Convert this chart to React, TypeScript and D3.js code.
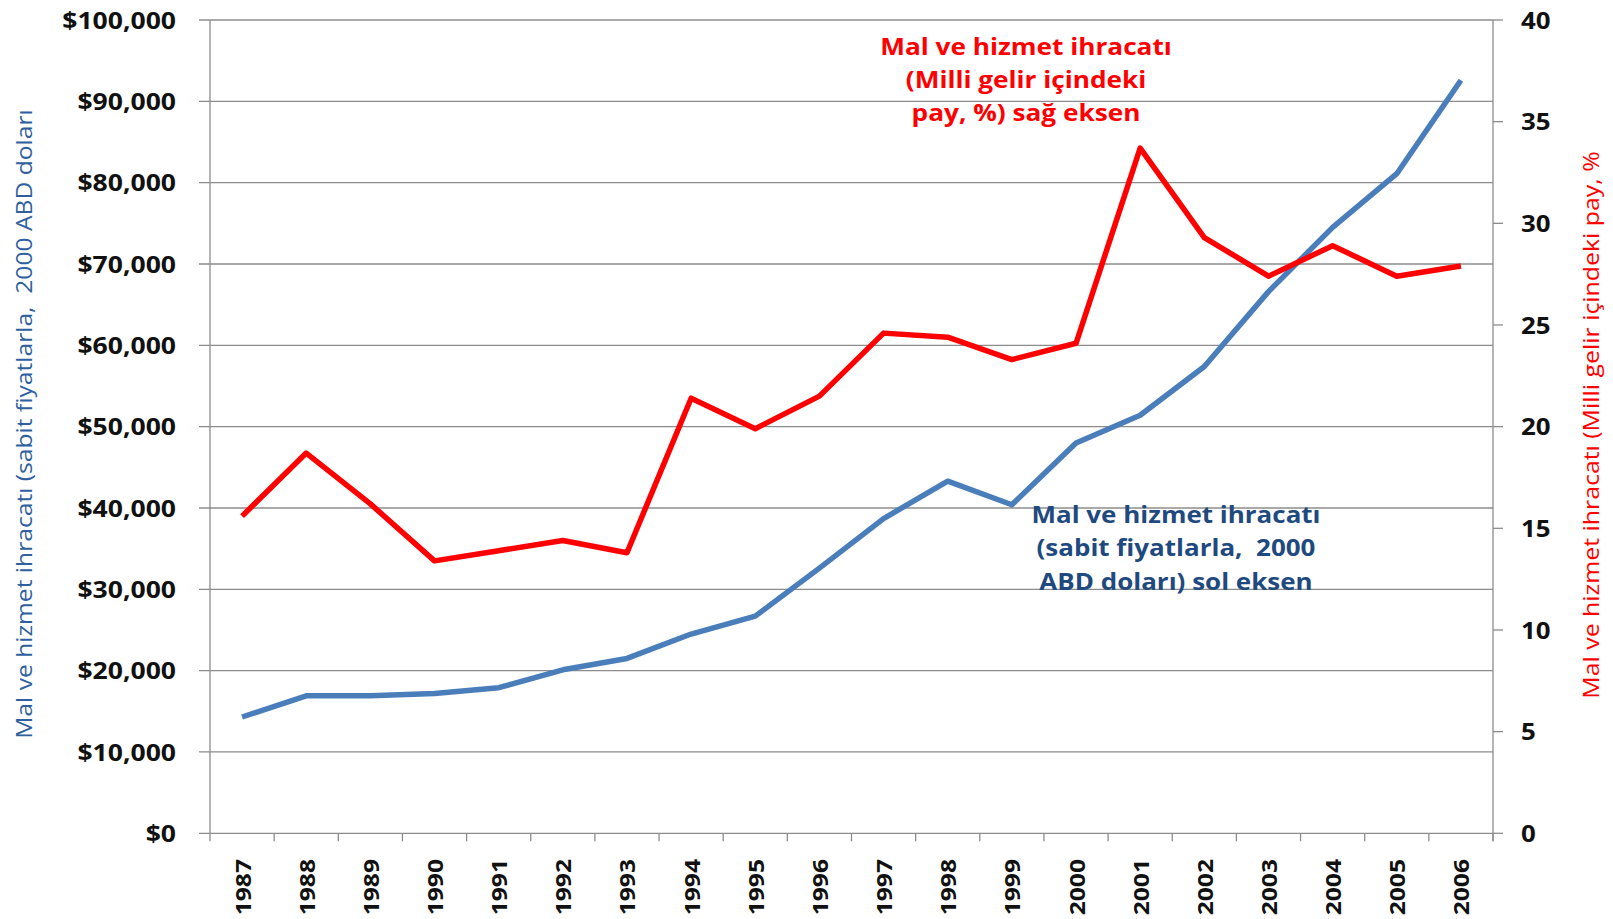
import React from "react";
import * as d3 from "d3";

const years = ["1987","1988","1989","1990","1991","1992","1993","1994","1995","1996","1997","1998","1999","2000","2001","2002","2003","2004","2005","2006"];
const exportsUsd = [14300,16900,16900,17200,17900,20100,21500,24500,26700,32600,38700,43300,40400,48000,51400,57400,66600,74500,81100,92600];
const exportsShare = [15.6,18.7,16.2,13.4,13.9,14.4,13.8,21.4,19.9,21.5,24.6,24.4,23.3,24.1,33.7,29.3,27.4,28.9,27.4,27.9];
const leftTicks = [0,10000,20000,30000,40000,50000,60000,70000,80000,90000,100000];
const rightTicks = [0,5,10,15,20,25,30,35,40];
const leftTitle = "Mal ve hizmet ihracatı (sabit fiyatlarla,  2000 ABD doları";
const rightTitle = "Mal ve hizmet ihracatı (Milli gelir içindeki pay, %";
const redNote = ["Mal ve hizmet ihracatı", "(Milli gelir içindeki", "pay, %) sağ eksen"];
const blueNote = ["Mal ve hizmet ihracatı", "(sabit fiyatlarla,  2000", "ABD doları) sol eksen"];

const W = 1613, H = 919;
const L = 210, R = 1493, T = 20, B = 833.3;
const FONT = "'Open Sans', sans-serif";
const BLUE = "#4A7EBB";
const RED = "#FF0000";
const NAVY = "#1F4A80";
const GRID = "#8C8C8C";
const PRE = { whiteSpace: "pre" as const };

export default function App() {
  const x = d3.scaleBand().domain(years).range([L, R]);
  const yL = d3.scaleLinear().domain([0, 100000]).range([B, T]);
  const yR = d3.scaleLinear().domain([0, 40]).range([B, T]);
  const cx = (d: string) => (x(d) as number) + x.bandwidth() / 2;
  const lineL = d3.line<number>().x((_, i) => cx(years[i])).y((v) => yL(v));
  const lineR = d3.line<number>().x((_, i) => cx(years[i])).y((v) => yR(v));
  const fmt = (v: number) => "$" + d3.format(",")(v);
  const bounds = years.map((d) => x(d) as number).concat([R]);

  return (
    <svg width={W} height={H} style={{ position: "absolute", left: 0, top: 0, background: "#fff" }}>
      {leftTicks.map((t) => (
        <line key={"g" + t} x1={L - 11} x2={R} y1={yL(t)} y2={yL(t)} stroke={GRID} strokeWidth={1.3} />
      ))}
      {rightTicks.map((t) => (
        <line key={"rt" + t} x1={R} x2={R + 10} y1={yR(t)} y2={yR(t)} stroke={GRID} strokeWidth={1.3} />
      ))}
      <line x1={L} x2={L} y1={T} y2={B} stroke={GRID} strokeWidth={1.3} />
      <line x1={R} x2={R} y1={T} y2={B + 8} stroke={GRID} strokeWidth={1.3} />
      {bounds.map((b, i) => (
        <line key={"xt" + i} x1={b} x2={b} y1={B} y2={B + 8} stroke={GRID} strokeWidth={1.3} />
      ))}
      {leftTicks.map((t) => (
        <g key={"lt" + t} transform={`translate(176,${yL(t)}) scale(1.18,1)`}>
          <text textAnchor="end" dominantBaseline="central" fontFamily={FONT} fontWeight={700} fontSize={22.5} fill="#111">{fmt(t)}</text>
        </g>
      ))}
      {rightTicks.map((t) => (
        <g key={"rl" + t} transform={`translate(1521,${yR(t)}) scale(1.15,1)`}>
          <text textAnchor="start" dominantBaseline="central" fontFamily={FONT} fontWeight={700} fontSize={22.5} fill="#111">{t}</text>
        </g>
      ))}
      {years.map((d) => (
        <g key={"y" + d} transform={`translate(${cx(d)},859) rotate(-90) scale(1.12,1)`}>
          <text textAnchor="end" dominantBaseline="central" fontFamily={FONT} fontWeight={700} fontSize={22} fill="#111">{d}</text>
        </g>
      ))}
      <path d={lineL(exportsUsd) || ""} fill="none" stroke={BLUE} strokeWidth={5.5} strokeLinejoin="round" />
      <path d={lineR(exportsShare) || ""} fill="none" stroke={RED} strokeWidth={5.5} strokeLinejoin="round" />
      <g transform={`translate(24,424) rotate(-90) scale(1.12,1)`}>
        <text textAnchor="middle" dominantBaseline="central" fontFamily={FONT} fontSize={22} fill="#2F5F9E" style={PRE}>{leftTitle}</text>
      </g>
      <g transform={`translate(1591,425) rotate(-90) scale(1.13,1)`}>
        <text textAnchor="middle" dominantBaseline="central" fontFamily={FONT} fontSize={22} fill={RED}>{rightTitle}</text>
      </g>
      {redNote.map((s, i) => (
        <g key={"rn" + i} transform={`translate(1026,${46 + i * 33}) scale(1.14,1)`}>
          <text textAnchor="middle" dominantBaseline="central" fontFamily={FONT} fontWeight={700} fontSize={23} fill={RED} style={PRE}>{s}</text>
        </g>
      ))}
      {blueNote.map((s, i) => (
        <g key={"bn" + i} transform={`translate(1176,${514 + i * 33.5}) scale(1.13,1)`}>
          <text textAnchor="middle" dominantBaseline="central" fontFamily={FONT} fontWeight={700} fontSize={23} fill={NAVY} style={PRE}>{s}</text>
        </g>
      ))}
    </svg>
  );
}
